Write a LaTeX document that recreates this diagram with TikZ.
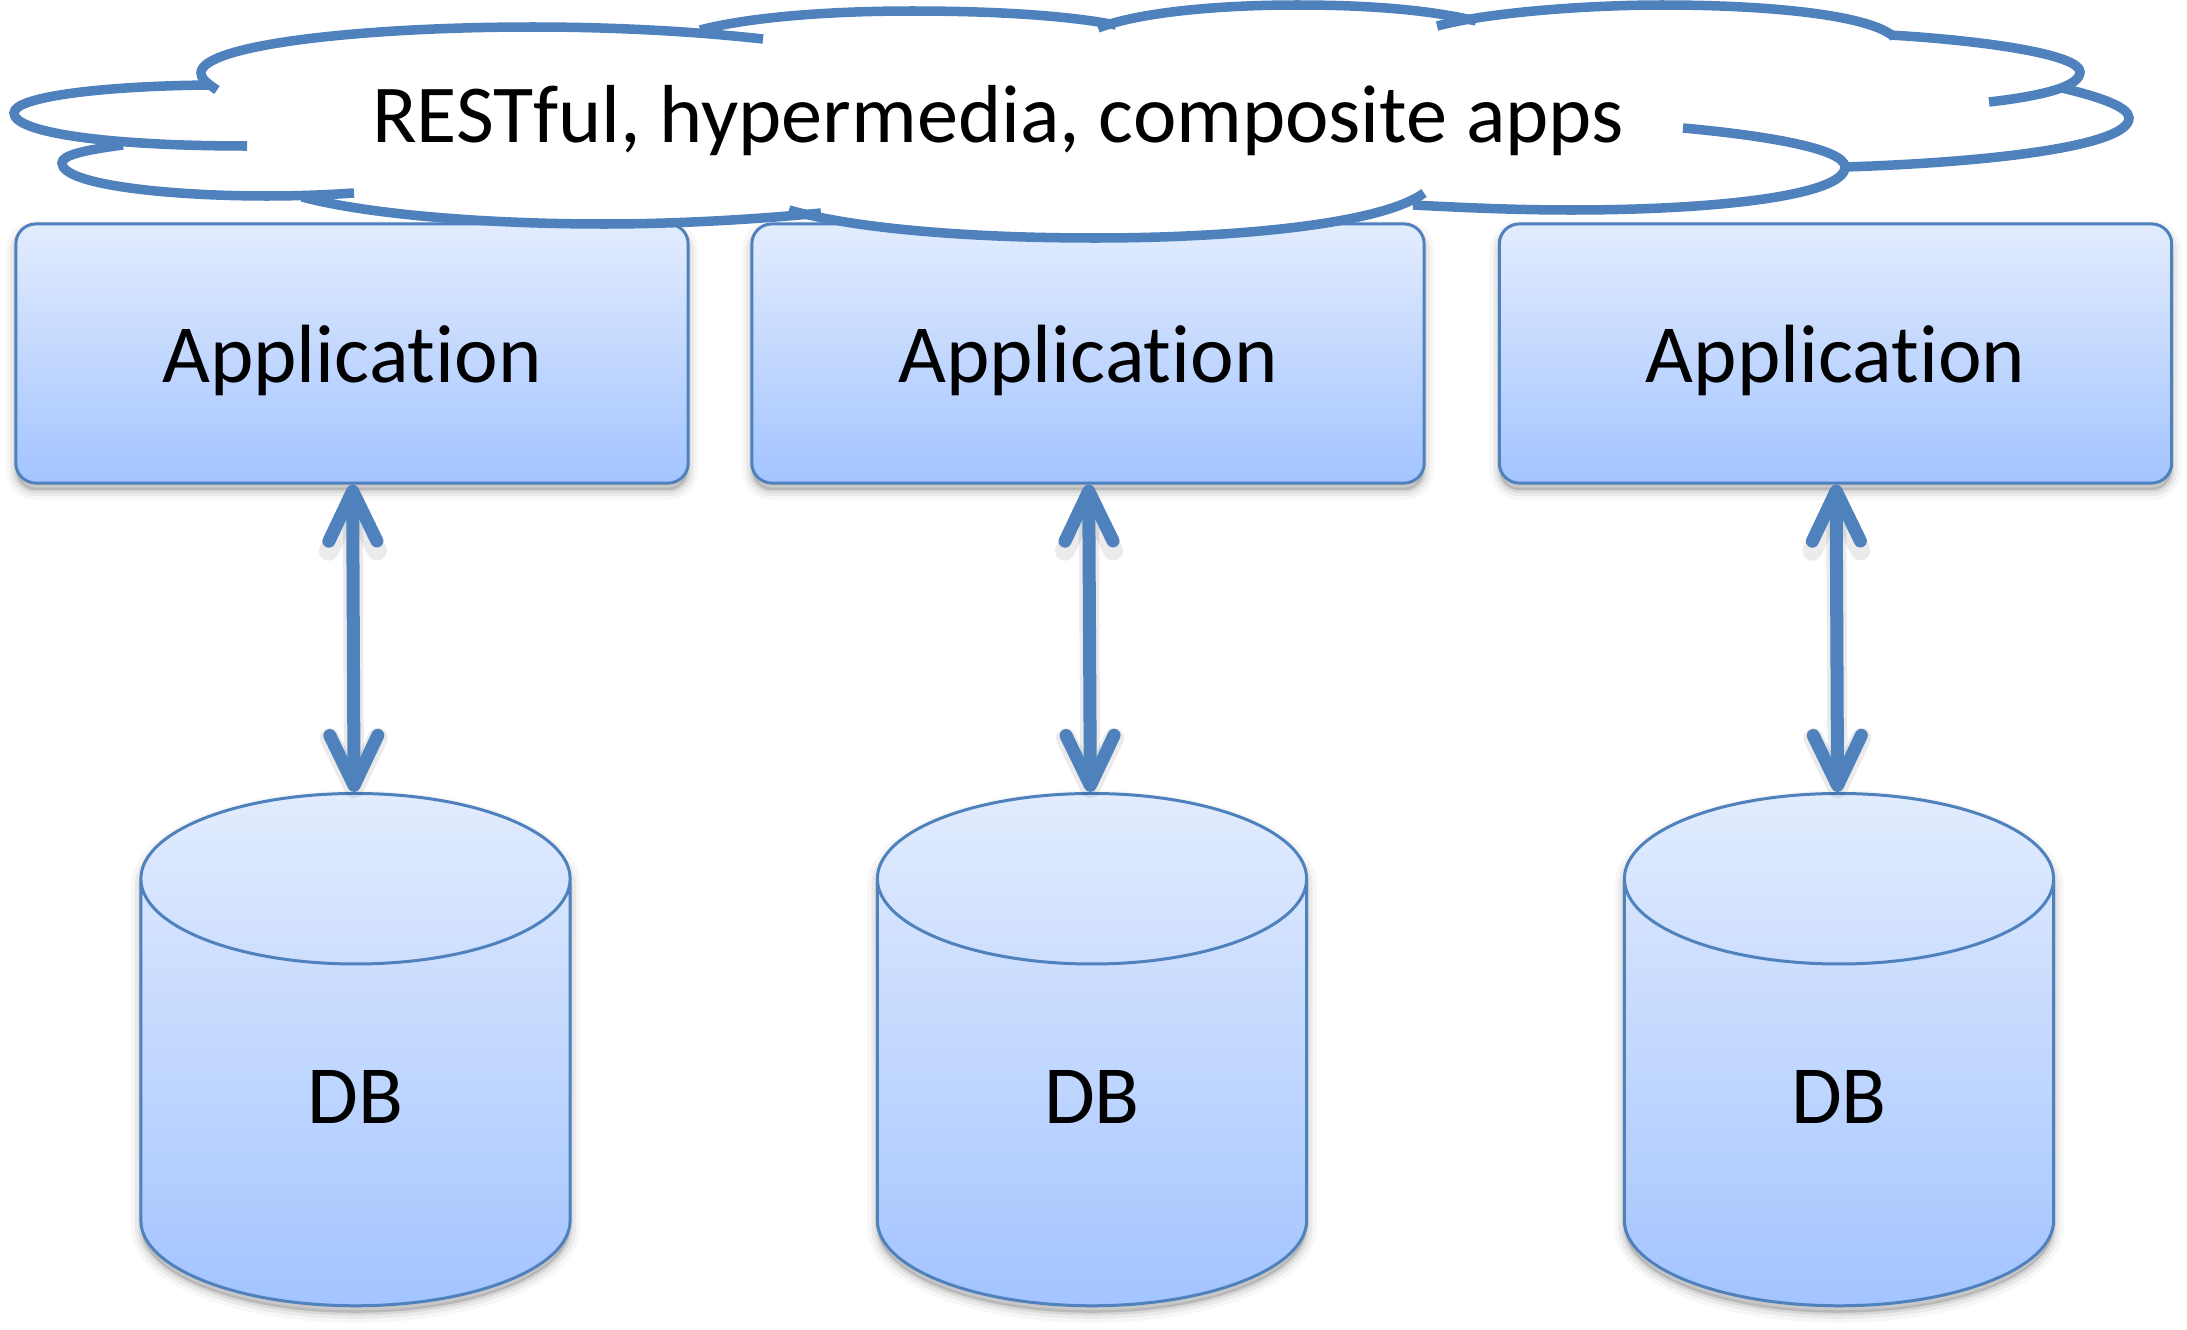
\documentclass[tikz,border=0pt]{standalone}
\usepackage{fontspec}
\setmainfont[Ligatures=NoCommon]{Carlito}
\usetikzlibrary{arrows.meta,shapes.geometric}
\definecolor{boxline}{HTML}{4F81BD}
\definecolor{boxtop}{HTML}{E2ECFE}
\definecolor{boxbottom}{HTML}{A3C4FF}
\tikzset{
  softshadow/.style={
    preaction={draw=black,fill=black,shade=false,draw opacity=.03,fill opacity=.05,line width=.2cm,transform canvas={yshift=-.07cm}},
    preaction={draw=black,fill=black,shade=false,draw opacity=.05,fill opacity=.05,line width=.12cm,transform canvas={yshift=-.07cm}},
    preaction={draw=black,fill=black,shade=false,draw opacity=.08,fill opacity=.05,line width=.05cm,transform canvas={yshift=-.07cm}}},
  appbox/.style={rectangle,rounded corners=.2cm,draw=boxline,line width=.03cm,top color=boxtop,bottom color=boxbottom,
    minimum width=6.72cm,minimum height=2.59cm,inner sep=0,text depth=0pt,font=\fontsize{23.5}{28}\selectfont,softshadow},
  dbcyl/.style={cylinder,shape border rotate=90,aspect=1.78,draw=boxline,line width=.03cm,top color=boxtop,bottom color=boxbottom,
    minimum width=4.29cm,minimum height=5.12cm,inner sep=0,text height=.61cm,text depth=0pt,font=\fontsize{23.5}{28}\selectfont,softshadow},
  dbarrow/.style={draw=boxline,line width=.13cm,{Straight Barb[length=.5cm,width=.48cm,round]}-{Straight Barb[length=.5cm,width=.48cm,round]}},
  arrowshade/.style={draw=black,draw opacity=.08,line width=.2cm,{Straight Barb[length=.5cm,width=.48cm,round]}-{Straight Barb[length=.5cm,width=.48cm,round]},transform canvas={yshift=-.06cm}},
  cloudline/.style={draw=boxline,line width=.095cm}
}
\begin{document}
\begin{tikzpicture}[x=.01cm,y=-.01cm]
\useasboundingbox (0,0) rectangle (2187,1330);

\node [appbox] (app1) at (352,353.5) {Application};
\node [appbox] (app2) at (1088,353.5) {Application};
\node [appbox] (app3) at (1835.5,353.5) {Application};

\node [dbcyl] (db1) at (355.5,1093) {DB};
\node [dbcyl] (db2) at (1092,1093) {DB};
\node [dbcyl] (db3) at (1839,1093) {DB};

\draw [arrowshade] (app1) -- (db1);
\draw [arrowshade] (app2) -- (db2);
\draw [arrowshade] (app3) -- (db3);
\draw [dbarrow] (app1) -- (db1);
\draw [dbarrow] (app2) -- (db2);
\draw [dbarrow] (app3) -- (db3);

% white inside of the cloud
\fill [white] (201,73) .. controls (201,45) and (360,27) .. (533,27) -- (700,30)
  .. controls (750,17) and (830,11) .. (912,11) -- (1098,28)
  .. controls (1140,12) and (1220,5) .. (1297,5) -- (1437,26)
  .. controls (1490,12) and (1590,5) .. (1662,5) .. controls (1770,5) and (1870,15) .. (1894,37)
  .. controls (1990,41) and (2080,55) .. (2080,72) -- (2062,88)
  .. controls (2100,97) and (2129,107) .. (2129,118) .. controls (2129,145) and (2000,162) .. (1845,167)
  .. controls (1845,195) and (1720,210) .. (1571,210) .. controls (1520,210) and (1470,208) .. (1413,205)
  -- (1424,193) .. controls (1380,225) and (1230,238) .. (1095,238) .. controls (980,238) and (860,230) .. (789,210)
  -- (821,213) .. controls (760,219) and (680,224) .. (604,224) .. controls (490,224) and (370,215) .. (302,197)
  -- (267,196) .. controls (170,196) and (62,185) .. (62,163) .. controls (62,155) and (85,150) .. (123,145)
  -- (14,113) .. controls (14,97) and (100,86) .. (210,85) -- cycle;

% cloud lobes, clockwise from the upper left
\draw [cloudline] (217,90) .. controls (205,82) and (201,78) .. (201,73) .. controls (201,45) and (360,27) .. (533,27) .. controls (620,27) and (700,32) .. (763,39);
\draw [cloudline] (700,30) .. controls (750,17) and (830,11) .. (912,11) .. controls (1000,11) and (1070,16) .. (1116,25);
\draw [cloudline] (1098,28) .. controls (1140,12) and (1220,5) .. (1297,5) .. controls (1370,5) and (1430,10) .. (1476,21);
\draw [cloudline] (1437,26) .. controls (1490,12) and (1590,5) .. (1662,5) .. controls (1770,5) and (1870,15) .. (1894,37);
\draw [cloudline] (1890,35) .. controls (1990,41) and (2080,55) .. (2080,72) .. controls (2080,85) and (2050,95) .. (1989,102);
\draw [cloudline] (2062,88) .. controls (2100,97) and (2129,107) .. (2129,118) .. controls (2129,145) and (2000,162) .. (1845,167);
\draw [cloudline] (1683,128) .. controls (1760,135) and (1845,148) .. (1845,167) .. controls (1845,195) and (1720,210) .. (1571,210) .. controls (1520,210) and (1470,208) .. (1413,205);
\draw [cloudline] (1424,193) .. controls (1380,225) and (1230,238) .. (1095,238) .. controls (980,238) and (860,230) .. (789,210);
\draw [cloudline] (821,213) .. controls (760,219) and (680,224) .. (604,224) .. controls (490,224) and (370,215) .. (302,197);
\draw [cloudline] (354,193) .. controls (325,195) and (295,196) .. (267,196) .. controls (170,196) and (62,185) .. (62,163) .. controls (62,155) and (85,150) .. (123,145);
\draw [cloudline] (247,146) .. controls (110,146) and (14,133) .. (14,113) .. controls (14,97) and (100,86) .. (210,85);

\node [anchor=base,inner sep=0,font=\fontsize{23.4}{28}\selectfont] (cloudtext) at (998,143) {RESTful, hypermedia, composite apps};
\end{tikzpicture}
\end{document}
